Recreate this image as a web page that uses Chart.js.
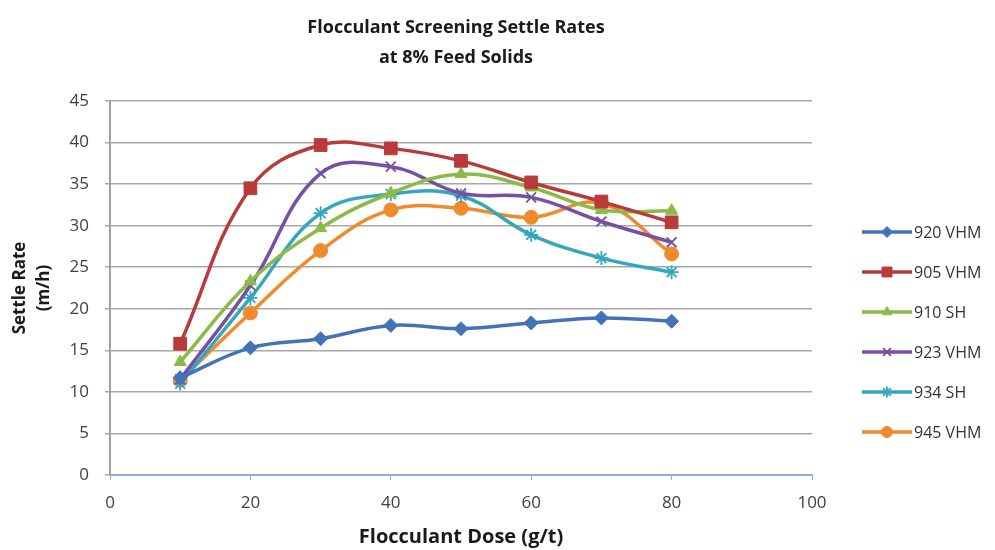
<!DOCTYPE html>
<html>
<head>
<meta charset="utf-8">
<script src="https://cdn.jsdelivr.net/npm/chart.js@4/dist/chart.umd.min.js"></script>
<style>
  html, body { margin: 0; padding: 0; background: #fff; }
  #wrap { width: 995px; height: 550px; position: relative; }
</style>
</head>
<body>
<div id="wrap"><canvas id="c"></canvas></div>
<script>
// doses (g/t)
var doses = [10, 20, 30, 40, 50, 60, 70, 80];

// settle rates (m/h) per flocculant
var s920 = [11.7, 15.3, 16.4, 18.0, 17.6, 18.3, 18.9, 18.5];
var s905 = [15.8, 34.5, 39.7, 39.3, 37.8, 35.2, 32.9, 30.4];
var s910 = [13.6, 23.3, 29.7, 33.9, 36.2, 34.6, 31.9, 31.8];
var s923 = [11.5, 22.8, 36.3, 37.1, 33.9, 33.4, 30.5, 28.0];
var s934 = [11.0, 21.3, 31.5, 33.8, 33.6, 28.9, 26.1, 24.4];
var s945 = [11.4, 19.5, 27.0, 31.9, 32.1, 31.0, 32.7, 26.6];

var names = ['920 VHM', '905 VHM', '910 SH', '923 VHM', '934 SH', '945 VHM'];
var colors = ['#4472b8', '#b93a3a', '#8cba48', '#7650a3', '#34a6be', '#f08a2c'];
var markers = ['rectRot', 'rect', 'triangle', 'crossRot', 'star', 'circle'];
var xTicks = [0, 20, 40, 60, 80, 100];
var titleLines = ['Flocculant Screening Settle Rates', 'at 8% Feed Solids'];

var series = [s920, s905, s910, s923, s934, s945];

var FONT = "'Open Sans', 'DejaVu Sans', sans-serif";

var datasets = series.map(function (vals, i) {
  return {
    label: names[i],
    data: vals.map(function (v, k) { return { x: doses[k], y: v }; }),
    borderColor: colors[i],
    backgroundColor: colors[i],
    pointBorderColor: colors[i],
    pointBackgroundColor: colors[i],
    borderWidth: 3.5,
    pointStyle: markers[i],
    pointRadius: markers[i] === 'rect' ? 9 : 7,
    pointBorderWidth: (markers[i] === 'crossRot' || markers[i] === 'star') ? 1.8 : 1,
    tension: 0.4,
    fill: false
  };
});

// title (centred over plot + legend) and legend on the right
var extras = {
  id: 'extras',
  afterDraw: function (chart) {
    var ctx = chart.ctx;
    ctx.save();
    ctx.fillStyle = '#1a1a1a';
    ctx.font = 'bold 18px ' + FONT;
    ctx.textAlign = 'center';
    ctx.textBaseline = 'middle';
    ctx.fillText(titleLines[0], 456, 28);
    ctx.fillText(titleLines[1], 456, 58);
    ctx.restore();

    var x0 = 862, x1 = 912, y0 = 232, step = 40;
    chart.data.datasets.forEach(function (ds, i) {
      var y = y0 + i * step;
      ctx.save();
      ctx.strokeStyle = ds.borderColor;
      ctx.lineWidth = 3.5;
      ctx.beginPath();
      ctx.moveTo(x0, y);
      ctx.lineTo(x1, y);
      ctx.stroke();
      ctx.fillStyle = ds.backgroundColor;
      ctx.strokeStyle = ds.borderColor;
      ctx.lineWidth = ds.pointBorderWidth;
      Chart.helpers.drawPoint(ctx, {
        pointStyle: ds.pointStyle,
        radius: ds.pointStyle === 'rect' ? 7 : 5.5,
        rotation: 0,
        borderWidth: ds.pointBorderWidth
      }, (x0 + x1) / 2, y);
      ctx.fillStyle = '#333333';
      ctx.font = '16px ' + FONT;
      ctx.textBaseline = 'middle';
      ctx.textAlign = 'left';
      ctx.fillText(ds.label, x1 + 2, y + 1);
      ctx.restore();
    });
  }
};

new Chart(document.getElementById('c'), {
  type: 'line',
  data: { datasets: datasets },
  plugins: [extras],
  options: {
    responsive: true,
    maintainAspectRatio: false,
    animation: false,
    layout: { padding: { left: 0, right: 183, top: 101, bottom: 0 } },
    plugins: {
      legend: { display: false },
      tooltip: { enabled: false },
      title: { display: false }
    },
    scales: {
      x: {
        type: 'linear',
        min: 0,
        max: 100,
        afterBuildTicks: function (s) { s.ticks = xTicks.map(function (v) { return { value: v }; }); },
        afterFit: function (s) { s.height = 75; },
        border: { color: '#8db0d8', width: 2 },
        grid: { drawOnChartArea: false, drawTicks: true, tickLength: 5, color: '#8db0d8' },
        ticks: { color: '#404040', font: { family: FONT, size: 17 }, padding: 13 },
        title: {
          display: true,
          text: 'Flocculant Dose (g/t)',
          color: '#1a1a1a',
          font: { family: FONT, size: 20, weight: 'bold' },
          padding: { top: 2, bottom: 1 }
        }
      },
      y: {
        min: 0,
        max: 45,
        ticks: { stepSize: 5, color: '#404040', font: { family: FONT, size: 17 }, padding: 16 },
        afterFit: function (s) { s.width = 110; },
        border: { color: '#a0a0a0', width: 2 },
        grid: { color: '#a8a8a8', lineWidth: 1.5, tickLength: 5 },
        title: {
          display: true,
          text: ['Settle Rate', '(m/h)'],
          color: '#1a1a1a',
          font: { family: FONT, size: 17, weight: 'bold', lineHeight: 1.4 },
          padding: { top: 8, bottom: 2 }
        }
      }
    }
  }
});
</script>
</body>
</html>
